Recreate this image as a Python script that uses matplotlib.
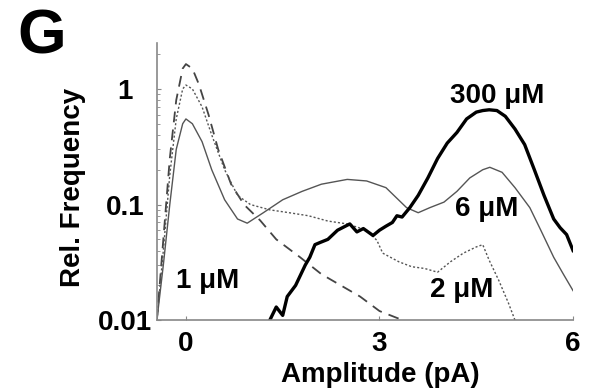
import numpy as np
import matplotlib.pyplot as plt

plt.rcParams['font.family'] = ['Liberation Sans', 'DejaVu Sans']
plt.rcParams['font.weight'] = 'bold'

# 1 uM (dashed)
x_1 = [-0.45, -0.35, -0.25, -0.15, -0.05, 0.0, 0.1, 0.2, 0.35, 0.5, 0.7, 0.9,
       1.15, 1.4, 1.77, 2.1, 2.4, 2.7, 3.0, 3.36]
y_1 = [0.01, 0.05, 0.25, 0.8, 1.5, 1.64, 1.5, 1.1, 0.6, 0.3, 0.15, 0.1,
       0.073, 0.05, 0.035, 0.025, 0.02, 0.016, 0.012, 0.01]

# 2 uM (dotted)
x_2 = [-0.45, -0.35, -0.25, -0.15, -0.05, 0.0, 0.1, 0.25, 0.4, 0.6, 0.8, 1.0,
       1.3, 1.6, 1.9, 2.2, 2.5, 2.8, 2.96, 3.05, 3.3, 3.5, 3.7, 3.9, 4.1, 4.3,
       4.5, 4.6, 4.7, 4.85, 5.0, 5.1]
y_2 = [0.01, 0.04, 0.18, 0.55, 1.0, 1.08, 1.0, 0.7, 0.4, 0.2, 0.12, 0.1,
       0.09, 0.085, 0.08, 0.072, 0.068, 0.06, 0.049, 0.038, 0.032, 0.029, 0.028,
       0.026, 0.032, 0.038, 0.043, 0.045, 0.033, 0.022, 0.014, 0.01]

# 6 uM (thin solid)
x_6 = [-0.45, -0.35, -0.25, -0.15, -0.05, 0.0, 0.1, 0.25, 0.4, 0.6, 0.8, 0.95,
       1.2, 1.5, 1.8, 2.1, 2.5, 2.8, 3.1, 3.42, 3.6, 3.78, 4.0, 4.2, 4.4, 4.6,
       4.71, 4.9, 5.1, 5.33, 5.5, 5.7, 5.85, 6.0]
y_6 = [0.01, 0.03, 0.1, 0.3, 0.5, 0.55, 0.5, 0.35, 0.2, 0.11, 0.075, 0.069,
       0.085, 0.11, 0.13, 0.15, 0.165, 0.16, 0.14, 0.094, 0.085, 0.094, 0.105,
       0.13, 0.17, 0.2, 0.21, 0.19, 0.14, 0.094, 0.06, 0.035, 0.025, 0.018]

# 300 uM (thick solid)
x_300 = [1.3, 1.4, 1.5, 1.57, 1.7, 1.85, 1.92, 2.0, 2.08, 2.2, 2.35, 2.54, 2.65,
         2.75, 2.9, 3.0, 3.1, 3.2, 3.27, 3.35, 3.47, 3.6, 3.75, 3.9, 4.05, 4.2,
         4.35, 4.5, 4.6, 4.7, 4.82, 4.95, 5.1, 5.25, 5.4, 5.55, 5.7, 5.8, 5.9, 6.0]
y_300 = [0.01, 0.013, 0.011, 0.016, 0.02, 0.03, 0.035, 0.045, 0.047, 0.05, 0.06,
         0.068, 0.058, 0.062, 0.054, 0.06, 0.065, 0.07, 0.08, 0.078, 0.094, 0.12,
         0.17, 0.25, 0.34, 0.42, 0.55, 0.63, 0.65, 0.66, 0.65, 0.58, 0.45, 0.33,
         0.2, 0.12, 0.075, 0.063, 0.055, 0.04]

fig = plt.figure(figsize=(5.92, 3.90), dpi=100)
ax = fig.add_axes([0.265, 0.179, 0.703, 0.711])

ax.plot(x_1, y_1, color='#444444', lw=1.3, ls=(0, (6, 4)))
ax.plot(x_2, y_2, color='#555555', lw=1.0, ls=(0, (1.5, 1.5)))
ax.plot(x_6, y_6, color='#555555', lw=1.0)
ax.plot(x_300, y_300, color='black', lw=2.4)

ax.set_yscale('log')
ax.set_xlim(-0.45, 6.0)
ax.set_ylim(0.01, 2.5)
ax.set_xticks([0, 3, 6])
ax.set_yticks([0.01, 0.1, 1])
ax.set_yticklabels(['0.01', '0.1', '1'])
ax.tick_params(direction='in', labelsize=20, length=3, color='#888888')
ax.tick_params(axis='x', pad=8)
ax.tick_params(axis='y', pad=23)
for lab in ax.get_yticklabels():
    lab.set_horizontalalignment('center')
ax.tick_params(which='minor', direction='in', length=2, color='#888888')
for s in ['top', 'right']:
    ax.spines[s].set_visible(False)
for s in ['left', 'bottom']:
    ax.spines[s].set_color('#888888')
    ax.spines[s].set_linewidth(1.2)

ax.set_xlabel('Amplitude (pA)', fontsize=20, fontweight='bold', labelpad=4)
ax.xaxis.set_label_coords(0.536, -0.15)
ax.set_ylabel('Rel. Frequency', fontsize=20, fontweight='bold')
ax.yaxis.set_label_coords(-0.171, 0.48)

ax.text(4.82, 0.75, '300 μM', fontsize=20, fontweight='bold', ha='center')
ax.text(4.66, 0.08, '6 μM', fontsize=20, fontweight='bold', ha='center')
ax.text(0.33, 0.019, '1 μM', fontsize=20, fontweight='bold', ha='center')
ax.text(4.28, 0.0158, '2 μM', fontsize=20, fontweight='bold', ha='center')

fig.text(0.029, 0.864, 'G', fontsize=45, fontweight='bold')

fig.savefig('out.png', dpi=100)
